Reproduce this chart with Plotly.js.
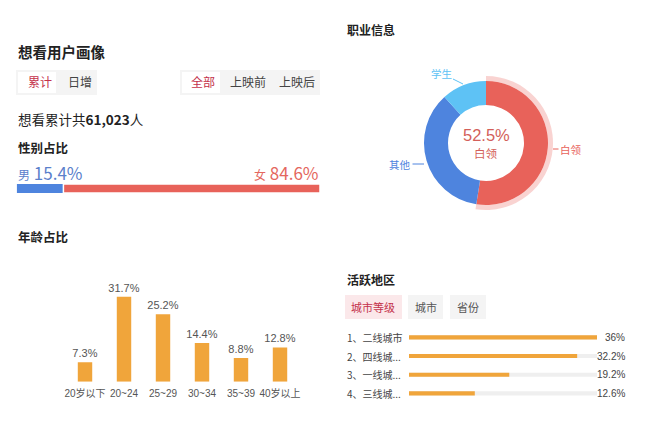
<!DOCTYPE html>
<html>
<head>
<meta charset="utf-8">
<script src="https://cdn.plot.ly/plotly-3.0.1.min.js"></script>
<style>html,body{margin:0;padding:0;background:#fff;}#chart{width:660px;height:425px;}</style>
</head>
<body>
<div id="chart"></div>
<script>
// ---- data ----
const totalWant = '61,023';
const genderLabels = ['男', '女'];
const genderVals = [15.4, 84.6];
const ageCats = ['20岁以下', '20~24', '25~29', '30~34', '35~39', '40岁以上'];
const ageVals = [7.3, 31.7, 25.2, 14.4, 8.8, 12.8];
const occLabels = ['白领', '其他', '学生'];
const occVals = [52.5, 35.8, 11.7];
const regionLabels = ['1、二线城市', '2、四线城...', '3、一线城...', '4、三线城...'];
const regionVals = [36, 32.2, 19.2, 12.6];
const regionText = ['36%', '32.2%', '19.2%', '12.6%'];

// ---- helpers ----
const W = 660, H = 425;
const px = x => x / W;
const py = y => 1 - y / H;
const CJK = '"Noto Sans CJK SC", "Noto Sans", sans-serif';
const NUM = '"Liberation Sans", "Noto Sans CJK SC", sans-serif';
const RED = '#e8625a', BLUE = '#4e84de', LBLUE = '#5ec2f5', ORANGE = '#f0a53b';

const regionMax = Math.max(...regionVals);

const traces = [
  // gender bar
  {type: 'bar', orientation: 'h', x: [genderVals[0]], y: [0], base: [0], width: 1,
   marker: {color: BLUE}, xaxis: 'x2', yaxis: 'y2', hoverinfo: 'skip', name: genderLabels[0]},
  {type: 'bar', orientation: 'h', x: [genderVals[1]], y: [0], base: [genderVals[0]], width: 1,
   marker: {color: RED, line: {color: '#ffffff', width: 1.5}}, xaxis: 'x2', yaxis: 'y2', hoverinfo: 'skip', name: genderLabels[1]},
  // age bars
  {type: 'bar', x: ageCats, y: ageVals, width: 0.37, marker: {color: ORANGE},
   text: ageVals.map(v => v.toFixed(1) + '%'), textposition: 'outside', cliponaxis: false, constraintext: 'none',
   textfont: {family: NUM, size: 11, color: '#555'}, xaxis: 'x', yaxis: 'y', hoverinfo: 'skip'},
  // region tracks
  {type: 'bar', orientation: 'h', x: regionVals.map(() => regionMax), y: regionLabels, width: 0.22,
   marker: {color: '#efefef'}, xaxis: 'x3', yaxis: 'y3', hoverinfo: 'skip'},
  {type: 'bar', orientation: 'h', x: regionVals, y: regionLabels, width: 0.22,
   marker: {color: ORANGE}, xaxis: 'x3', yaxis: 'y3', hoverinfo: 'skip'},
  // highlight ring
  {type: 'pie', values: [occVals[0], 100 - occVals[0]], sort: false, direction: 'clockwise', rotation: 0,
   hole: 62 / 67, marker: {colors: ['rgba(232,98,90,0.28)', 'rgba(0,0,0,0)'], line: {width: 0}},
   textinfo: 'none', hoverinfo: 'skip', showlegend: false,
   domain: {x: [px(486 - 67), px(486 + 67)], y: [py(143 + 67), py(143 - 67)]}},
  // donut
  {type: 'pie', labels: occLabels, values: occVals, sort: false, direction: 'clockwise', rotation: 0,
   hole: 38 / 62, marker: {colors: [RED, BLUE, LBLUE], line: {width: 0}},
   textinfo: 'none', hoverinfo: 'skip', showlegend: false,
   domain: {x: [px(486 - 62), px(486 + 62)], y: [py(143 + 62), py(143 - 62)]}}
];

function txt(x, y, text, size, color, opts) {
  return Object.assign({xref: 'paper', yref: 'paper', x: px(x), y: py(y), text: text, showarrow: false,
    xanchor: 'left', yanchor: 'middle', font: {family: CJK, size: size, color: color}}, opts || {});
}

const annotations = [
  txt(16, 52, '<b>想看用户画像</b>', 14.5, '#222'),
  txt(26, 82, '累计', 12, '#c4314b'),
  txt(66, 82, '日增', 12, '#444'),
  txt(189, 82, '全部', 12, '#c4314b'),
  txt(228, 82, '上映前', 12, '#444'),
  txt(277, 82, '上映后', 12, '#444'),
  txt(16, 119, '想看累计共<b>' + totalWant + '</b>人', 13.5, '#222'),
  txt(16, 147, '<b>性别占比</b>', 12.5, '#222'),
  txt(16, 173, '<span style="font-size:12px">' + genderLabels[0] + '</span> ' + genderVals[0] + '%', 17, '#5b80cb'),
  txt(321, 173, '<span style="font-size:12px">' + genderLabels[1] + '</span> ' + genderVals[1] + '%', 17, '#e4675e', {xanchor: 'right'}),
  txt(16, 236, '<b>年龄占比</b>', 12.5, '#222'),
  txt(345, 29, '<b>职业信息</b>', 12, '#222'),
  txt(486, 135, occVals[0] + '%', 16.5, '#d35f5a', {xanchor: 'center', font: {family: NUM, size: 16.5, color: '#d35f5a'}}),
  txt(486, 153, occLabels[0], 11.5, '#d35f5a', {xanchor: 'center'}),
  txt(345, 279, '<b>活跃地区</b>', 12, '#222'),
  txt(373, 307, '城市等级', 11, '#c4314b', {xanchor: 'center'}),
  txt(425.5, 307, '城市', 11, '#555', {xanchor: 'center'}),
  txt(468, 307, '省份', 11, '#555', {xanchor: 'center'})
];

// donut labels with leader lines
annotations.push({xref: 'paper', yref: 'paper', x: px(553), y: py(149), ax: 18, ay: 0, text: occLabels[0],
  showarrow: true, arrowhead: 0, arrowwidth: 1, arrowcolor: '#e8625a', standoff: 0,
  font: {family: CJK, size: 10.5, color: '#e8625a'}});
annotations.push({xref: 'paper', yref: 'paper', x: px(424), y: py(164), ax: -24, ay: 0, text: occLabels[1],
  showarrow: true, arrowhead: 0, arrowwidth: 1, arrowcolor: '#4e84de', standoff: 0,
  font: {family: CJK, size: 10.5, color: '#4e84de'}});
annotations.push({xref: 'paper', yref: 'paper', x: px(463), y: py(84), ax: -22, ay: -11, text: occLabels[2],
  showarrow: true, arrowhead: 0, arrowwidth: 1, arrowcolor: '#5ec2f5', standoff: 0,
  font: {family: CJK, size: 10.5, color: '#5ec2f5'}});

// region row labels and values
regionLabels.forEach((lab, i) => {
  annotations.push({xref: 'paper', yref: 'y3', x: px(345), y: i, text: lab, showarrow: false,
    xanchor: 'left', yanchor: 'middle', font: {family: CJK, size: 10, color: '#444'}});
  annotations.push({xref: 'paper', yref: 'y3', x: px(627), y: i, text: regionText[i], showarrow: false,
    xanchor: 'right', yanchor: 'middle', font: {family: NUM, size: 10, color: '#444'}});
});

const shapes = [
  // left button group
  {type: 'rect', xref: 'paper', yref: 'paper', x0: px(16), x1: px(97), y0: py(95), y1: py(70), fillcolor: '#f4f4f4', line: {width: 0}, layer: 'below'},
  {type: 'rect', xref: 'paper', yref: 'paper', x0: px(18), x1: px(56), y0: py(93), y1: py(72), fillcolor: '#ffffff', line: {width: 0}, layer: 'below'},
  // right button group
  {type: 'rect', xref: 'paper', yref: 'paper', x0: px(180), x1: px(320), y0: py(95), y1: py(70), fillcolor: '#f4f4f4', line: {width: 0}, layer: 'below'},
  {type: 'rect', xref: 'paper', yref: 'paper', x0: px(182), x1: px(220), y0: py(93), y1: py(72), fillcolor: '#ffffff', line: {width: 0}, layer: 'below'},
  // region buttons
  {type: 'rect', xref: 'paper', yref: 'paper', x0: px(345), x1: px(402), y0: py(319), y1: py(295), fillcolor: '#fbe8ea', line: {width: 0}, layer: 'below'},
  {type: 'rect', xref: 'paper', yref: 'paper', x0: px(408), x1: px(443), y0: py(319), y1: py(295), fillcolor: '#f4f4f4', line: {width: 0}, layer: 'below'},
  {type: 'rect', xref: 'paper', yref: 'paper', x0: px(450), x1: px(486), y0: py(319), y1: py(295), fillcolor: '#f4f4f4', line: {width: 0}, layer: 'below'}
];

const layout = {
  width: W, height: H,
  margin: {l: 0, r: 0, t: 0, b: 0},
  paper_bgcolor: '#ffffff', plot_bgcolor: 'rgba(0,0,0,0)',
  showlegend: false,
  barmode: 'overlay',
  font: {family: CJK},
  xaxis: {domain: [px(65.5), px(299.5)], type: 'category', range: [-0.5, 5.5], showgrid: false, zeroline: false,
          showline: false, ticks: '', tickangle: 0, automargin: false, ticklabelstandoff: 4,
          tickfont: {family: NUM, size: 10, color: '#555'}, fixedrange: true},
  yaxis: {domain: [py(381.7), py(274.5)], range: [0, 40], visible: false, fixedrange: true},
  xaxis2: {domain: [px(16.7), px(320)], range: [0, 100], visible: false, anchor: 'y2'},
  yaxis2: {domain: [py(193), py(184)], range: [-0.5, 0.5], visible: false, anchor: 'x2'},
  xaxis3: {domain: [px(409), px(597)], range: [0, regionMax], visible: false, anchor: 'y3'},
  yaxis3: {domain: [py(402.7), py(328)], type: 'category', range: [3.5, -0.5], visible: false, anchor: 'x3'},
  annotations: annotations,
  shapes: shapes
};

Plotly.newPlot('chart', traces, layout, {displayModeBar: false, staticPlot: true});
</script>
</body>
</html>
